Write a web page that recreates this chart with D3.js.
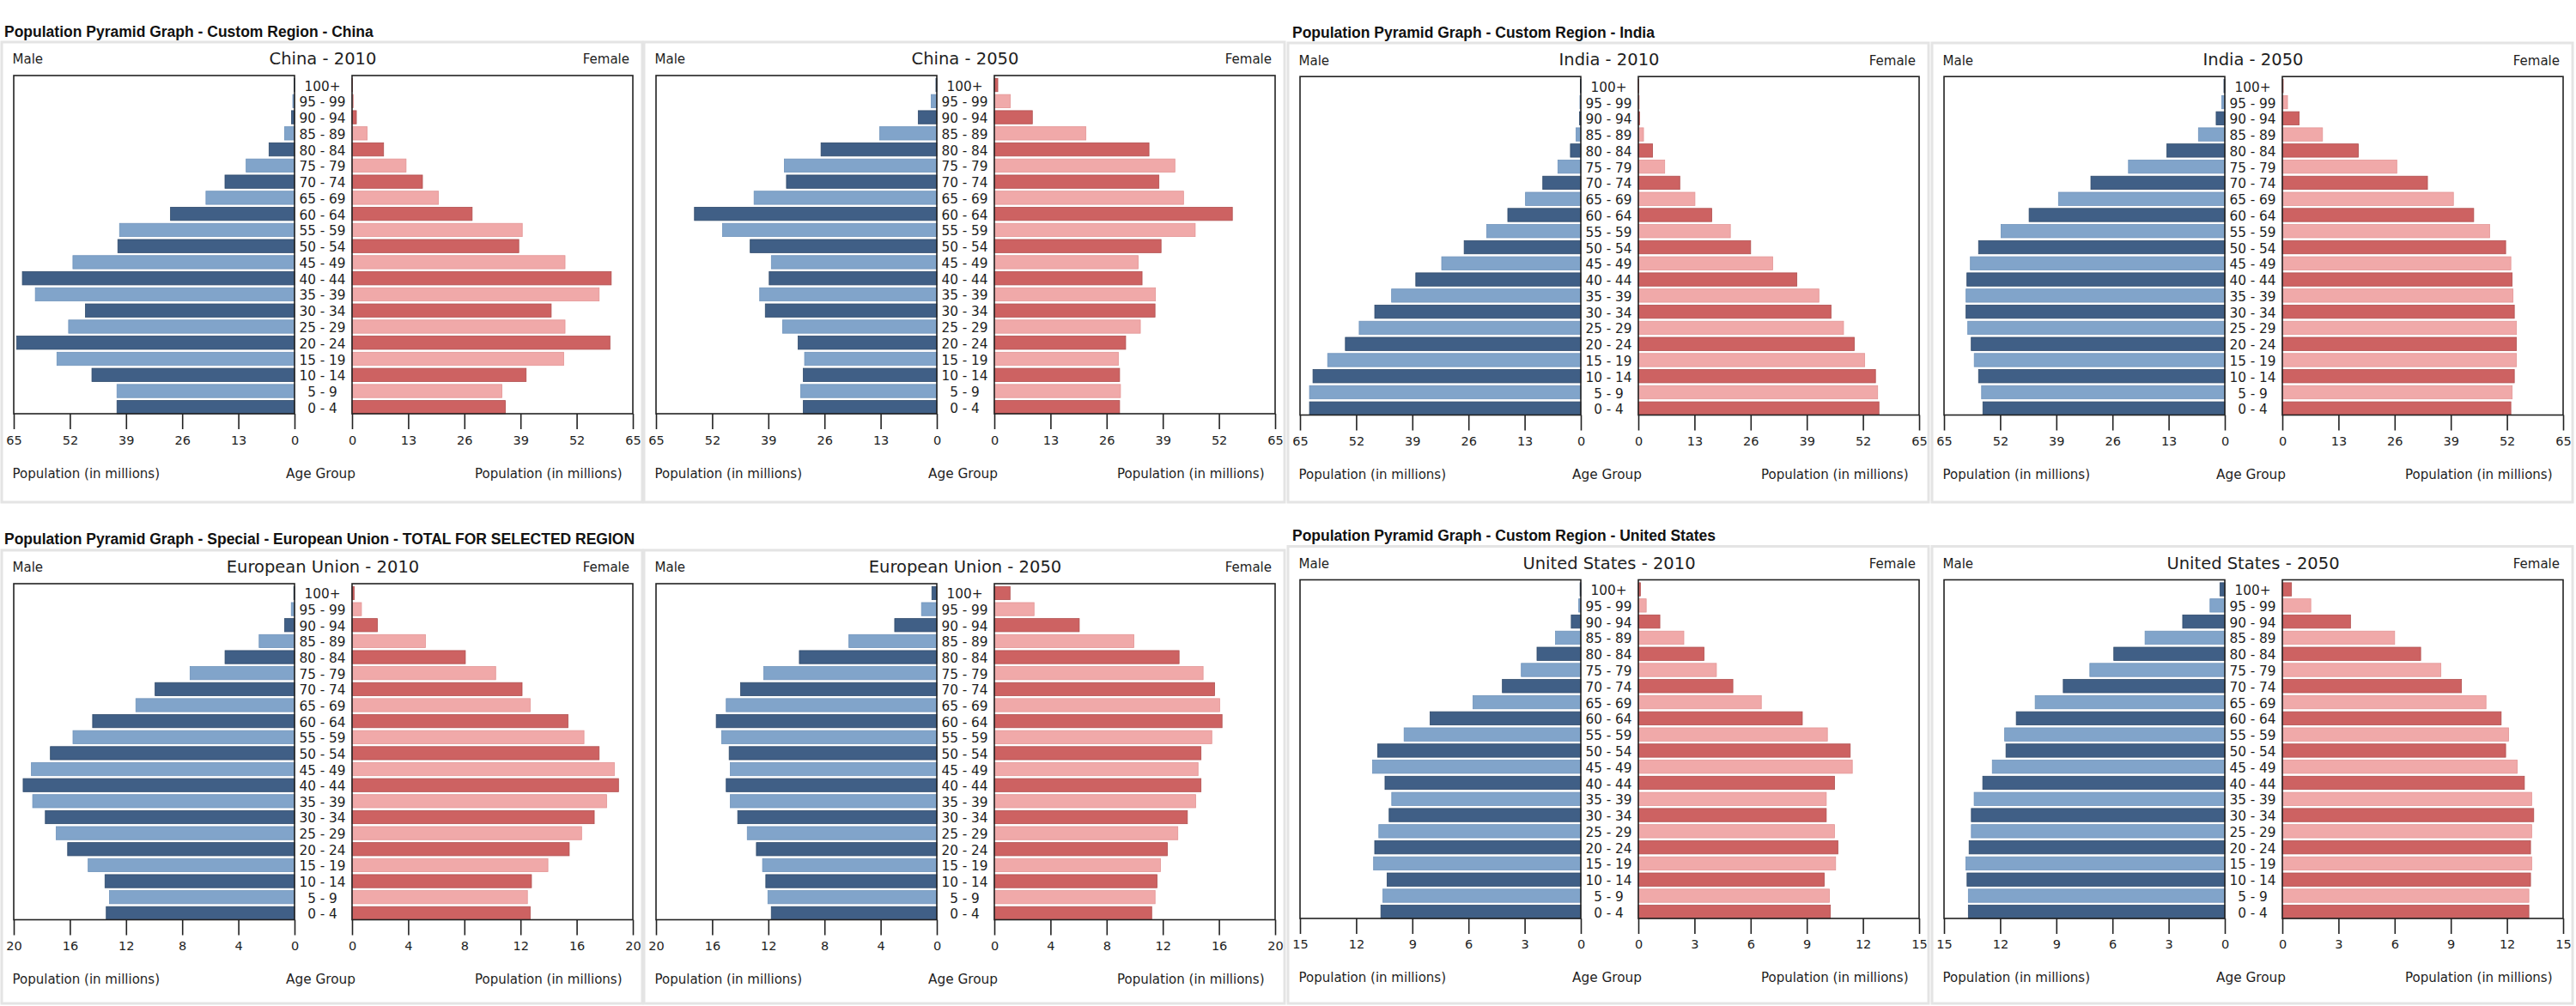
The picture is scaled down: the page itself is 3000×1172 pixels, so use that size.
<!DOCTYPE html>
<html><head><meta charset="utf-8">
<script src="https://cdn.jsdelivr.net/npm/d3@7"></script>
<style>body{margin:0;background:#fff} svg{display:block}</style>
</head><body><svg id="c" width="3000" height="1172"></svg>
<script>
// Age groups, top to bottom
const ageGroups = ["100+","95 - 99","90 - 94","85 - 89","80 - 84","75 - 79","70 - 74","65 - 69","60 - 64","55 - 59","50 - 54","45 - 49","40 - 44","35 - 39","30 - 34","25 - 29","20 - 24","15 - 19","10 - 14","5 - 9","0 - 4"];

// Population in millions (top to bottom, same order as ageGroups)
const chinaMale2010   = [0.1,0.4,0.7,2.3,5.9,11.2,16.1,20.5,28.7,40.5,40.9,51.3,63.0,60.0,48.4,52.3,64.3,55.0,46.9,41.1,41.1];
const chinaFemale2010 = [0.1,0.3,1.0,3.5,7.3,12.5,16.3,20.0,27.8,39.4,38.6,49.3,60.0,57.2,46.1,49.3,59.7,49.0,40.3,34.7,35.5];
const chinaMale2050   = [0.2,1.3,4.3,13.2,26.8,35.3,34.8,42.3,56.1,49.6,43.2,38.3,38.8,41.0,39.7,35.7,32.1,30.6,30.9,31.5,30.9];
const chinaFemale2050 = [0.8,3.7,8.8,21.2,35.8,41.8,38.1,43.8,55.1,46.5,38.6,33.3,34.2,37.3,37.2,33.8,30.4,28.7,29.0,29.2,29.0];
const indiaMale2010   = [0.1,0.2,0.3,1.1,2.4,5.3,8.8,12.8,16.9,21.8,27.0,32.2,38.2,43.8,47.7,51.3,54.5,58.6,62.0,62.8,62.8];
const indiaFemale2010 = [0.1,0.2,0.3,1.2,3.3,6.1,9.6,13.1,17.0,21.3,26.0,31.1,36.7,41.8,44.6,47.5,50.0,52.4,54.9,55.4,55.7];
const indiaMale2050   = [0.2,0.7,2.0,6.1,13.4,22.3,31.0,38.5,45.3,51.8,57.0,58.9,59.7,59.9,59.9,59.5,58.7,58.0,57.0,56.3,56.0];
const indiaFemale2050 = [0.2,1.2,3.9,9.3,17.6,26.5,33.6,39.6,44.3,48.0,51.7,52.9,53.2,53.4,53.7,54.2,54.2,54.2,53.7,53.2,52.9];
const euMale2010      = [0.05,0.23,0.70,2.52,4.95,7.44,9.93,11.30,14.38,15.78,17.39,18.74,19.33,18.65,17.75,16.98,16.16,14.70,13.50,13.18,13.41];
const euFemale2010    = [0.15,0.67,1.81,5.23,8.07,10.23,12.11,12.69,15.38,16.52,17.60,18.68,18.98,18.13,17.25,16.35,15.47,13.95,12.78,12.49,12.69];
const euMale2050      = [0.35,1.09,3.0,6.26,9.79,12.32,13.97,15.0,15.71,15.32,14.79,14.71,15.0,14.71,14.18,13.5,12.85,12.41,12.18,12.03,11.79];
const euFemale2050    = [1.12,2.83,6.05,9.94,13.16,14.87,15.69,16.05,16.22,15.49,14.72,14.51,14.72,14.34,13.75,13.07,12.33,11.83,11.59,11.45,11.21];
const usMale2010      = [0.04,0.11,0.51,1.35,2.34,3.18,4.19,5.76,8.05,9.44,10.85,11.12,10.46,10.10,10.24,10.79,11.01,11.07,10.35,10.57,10.68];
const usFemale2010    = [0.11,0.42,1.15,2.43,3.51,4.17,5.05,6.57,8.76,10.10,11.32,11.43,10.48,10.04,10.04,10.48,10.66,10.54,9.93,10.21,10.26];
const usMale2050      = [0.26,0.79,2.25,4.26,5.93,7.21,8.63,10.13,11.14,11.76,11.69,12.42,12.93,13.39,13.54,13.54,13.66,13.83,13.77,13.70,13.70];
const usFemale2050    = [0.49,1.52,3.64,6.0,7.39,8.47,9.57,10.88,11.69,12.09,11.93,12.55,12.93,13.32,13.43,13.32,13.26,13.32,13.26,13.17,13.17];

// Tick values
const ticksChinaIndia = [0,13,26,39,52,65];
const ticksEU = [0,4,8,12,16,20];
const ticksUS = [0,3,6,9,12,15];

// Section titles
const sectionTitles = [
  {text:"Population Pyramid Graph - Custom Region - China", x:5, row:"china"},
  {text:"Population Pyramid Graph - Custom Region - India", x:1505, row:"india"},
  {text:"Population Pyramid Graph - Special - European Union - TOTAL FOR SELECTED REGION", x:5, row:"eu"},
  {text:"Population Pyramid Graph - Custom Region - United States", x:1505, row:"us"}
];

// Layout per group (pixels)
const rows = {
  china:{sectionY:36.5, panelTop:49, panelBottom:585, labelY:69, boxTop:88, boxBottom:482, tickY:512.5, bottomY:551.5},
  india:{sectionY:37.8, panelTop:50, panelBottom:585, labelY:70.5, boxTop:89.2, boxBottom:483.5, tickY:514, bottomY:553},
  eu:   {sectionY:628, panelTop:641, panelBottom:1169, labelY:661.3, boxTop:680, boxBottom:1071.5, tickY:1102, bottomY:1140.5},
  us:   {sectionY:624, panelTop:636.5, panelBottom:1169, labelY:657.2, boxTop:675.5, boxBottom:1070, tickY:1100.4, bottomY:1139.4}
};

const charts = [
  {title:"China - 2010", male:chinaMale2010, female:chinaFemale2010, ticks:ticksChinaIndia, px:2, row:"china"},
  {title:"China - 2050", male:chinaMale2050, female:chinaFemale2050, ticks:ticksChinaIndia, px:750, row:"china"},
  {title:"India - 2010", male:indiaMale2010, female:indiaFemale2010, ticks:ticksChinaIndia, px:1500, row:"india"},
  {title:"India - 2050", male:indiaMale2050, female:indiaFemale2050, ticks:ticksChinaIndia, px:2250, row:"india"},
  {title:"European Union - 2010", male:euMale2010, female:euFemale2010, ticks:ticksEU, px:2, row:"eu"},
  {title:"European Union - 2050", male:euMale2050, female:euFemale2050, ticks:ticksEU, px:750, row:"eu"},
  {title:"United States - 2010", male:usMale2010, female:usFemale2010, ticks:ticksUS, px:1500, row:"us"},
  {title:"United States - 2050", male:usMale2050, female:usFemale2050, ticks:ticksUS, px:2250, row:"us"}
];

const colors = {maleDark:"#405f86", maleLight:"#81a4ca", femaleDark:"#cd6262", femaleLight:"#f0a9a9"};
const FONT = "'DejaVu Sans', sans-serif";
const TXT = "#1e1e1e";

const svg = d3.select("#c");
svg.append("rect").attr("width",3000).attr("height",1172).attr("fill","#fff");

// Section titles
svg.selectAll("text.section").data(sectionTitles).join("text")
  .attr("class","section")
  .attr("x", d => d.x).attr("y", d => rows[d.row].sectionY)
  .attr("dominant-baseline","central")
  .attr("font-family","'Liberation Sans', Arial, sans-serif")
  .attr("font-weight","bold").attr("font-size",17.5).attr("fill","#111")
  .text(d => d.text);

charts.forEach(c => {
  const r = rows[c.row];
  const g = svg.append("g");
  const px = c.px;
  const W = 746;
  // panel frame
  g.append("rect").attr("x", px).attr("y", r.panelTop).attr("width", W).attr("height", r.panelBottom - r.panelTop)
    .attr("fill","#fff").attr("stroke","#e4e4e4").attr("stroke-width",3);

  const lL = px + 14, lR = px + 341, rL = px + 408, rR = px + 735;
  const maxV = d3.max(c.ticks);
  const xL = d3.scaleLinear().domain([maxV, 0]).range([lL, lR]);
  const xR = d3.scaleLinear().domain([0, maxV]).range([rL, rR]);
  const y = d3.scaleBand().domain(ageGroups).range([r.boxTop, r.boxBottom]).padding(0);
  const step = y.step();
  const barOff = step * 0.18, barH = step * 0.82;

  const isDark = i => i % 2 === 0;

  // bars
  g.selectAll("rect.m").data(c.male).join("rect").attr("class","m")
    .attr("x", d => xL(d)).attr("width", d => xL(0) - xL(d))
    .attr("y", (d,i) => y(ageGroups[i]) + barOff).attr("height", barH)
    .attr("fill", (d,i) => isDark(i) ? colors.maleDark : colors.maleLight)
    .attr("stroke", (d,i) => isDark(i) ? "#2f4a6b" : "#6f93bb").attr("stroke-width", 0.8);
  g.selectAll("rect.f").data(c.female).join("rect").attr("class","f")
    .attr("x", xR(0)).attr("width", d => xR(d) - xR(0))
    .attr("y", (d,i) => y(ageGroups[i]) + barOff).attr("height", barH)
    .attr("fill", (d,i) => isDark(i) ? colors.femaleDark : colors.femaleLight)
    .attr("stroke", (d,i) => isDark(i) ? "#b14f4f" : "#e39494").attr("stroke-width", 0.8);

  // boxes
  [[lL,lR],[rL,rR]].forEach(([a,b]) => {
    g.append("rect").attr("x", a).attr("y", r.boxTop).attr("width", b - a).attr("height", r.boxBottom - r.boxTop)
      .attr("fill","none").attr("stroke","#222").attr("stroke-width",1.6);
  });

  // axes
  [xL, xR].forEach(sc => {
    const ax = g.append("g").attr("transform", `translate(0,${r.boxBottom})`)
      .call(d3.axisBottom(sc).tickValues(c.ticks).tickSize(18).tickFormat(d3.format("d")));
    ax.select(".domain").remove();
    ax.selectAll(".tick line").attr("stroke","#222").attr("stroke-width",1.6);
    ax.selectAll(".tick text").attr("y", r.tickY - r.boxBottom).attr("dy","0.35em")
      .attr("font-family", FONT).attr("font-size", 14.5).attr("fill", TXT);
  });

  // age labels
  g.selectAll("text.age").data(ageGroups).join("text").attr("class","age")
    .attr("x", px + 373.5).attr("y", d => y(d) + barOff + barH/2 + 1.5)
    .attr("text-anchor","middle").attr("dominant-baseline","central")
    .attr("font-family", FONT).attr("font-size", 15.3).attr("fill", TXT)
    .text(d => d);

  // labels
  const txt = (x, yy, s, anchor, size) => g.append("text").attr("x", x).attr("y", yy)
    .attr("text-anchor", anchor).attr("dominant-baseline","central")
    .attr("font-family", FONT).attr("font-size", size).attr("fill", TXT).text(s);
  txt(px + 12.5, r.labelY, "Male", "start", 15);
  txt(px + 731, r.labelY, "Female", "end", 15);
  txt(px + 374, r.labelY - 1, c.title, "middle", 19.5);
  txt(px + 12.5, r.bottomY, "Population (in millions)", "start", 15);
  txt(px + 371.5, r.bottomY, "Age Group", "middle", 15.3);
  txt(px + 722.5, r.bottomY, "Population (in millions)", "end", 15);
});
</script>
</body></html>
